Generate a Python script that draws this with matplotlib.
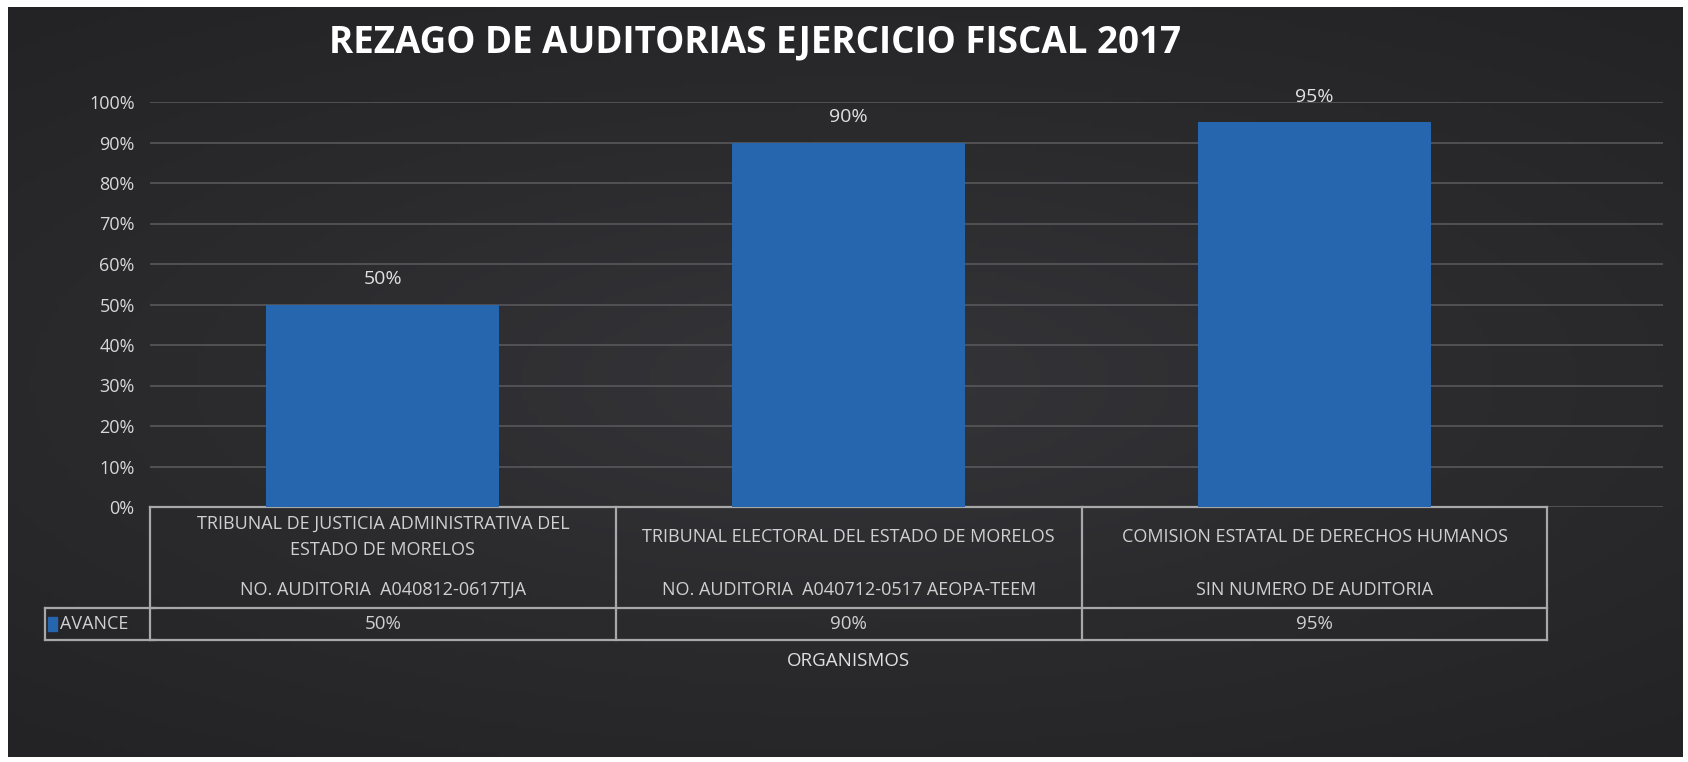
import matplotlib
matplotlib.use('Agg')
import matplotlib.pyplot as plt
import numpy as np
from matplotlib.patches import Rectangle
from matplotlib.colors import LinearSegmentedColormap
from matplotlib.transforms import blended_transform_factory

plt.rcParams['font.family'] = ['Open Sans', 'DejaVu Sans']

# datos
titulo = 'REZAGO DE AUDITORIAS EJERCICIO FISCAL 2017'
organismos = ['TRIBUNAL DE JUSTICIA ADMINISTRATIVA DEL\nESTADO DE MORELOS',
              'TRIBUNAL ELECTORAL DEL ESTADO DE MORELOS',
              'COMISION ESTATAL DE DERECHOS HUMANOS']
auditorias = ['NO. AUDITORIA  A040812-0617TJA',
              'NO. AUDITORIA  A040712-0517 AEOPA-TEEM',
              'SIN NUMERO DE AUDITORIA']
avance = [0.50, 0.90, 0.95]
serie = 'AVANCE'
eje_x = 'ORGANISMOS'
yticks = [0, 0.1, 0.2, 0.3, 0.4, 0.5, 0.6, 0.7, 0.8, 0.9, 1.0]

W, H = 1688, 762
fig = plt.figure(figsize=(W / 100, H / 100), dpi=100, facecolor='white')


def fx(x):
    return x / W


def fy(y):
    return 1 - y / H


# fondo oscuro, un poco mas claro al centro
bg = fig.add_axes([fx(8), fy(757), fx(1683) - fx(8), fy(7) - fy(757)])
gx, gy = np.meshgrid(np.linspace(-1, 1, 300), np.linspace(-1, 1, 150))
r = np.sqrt(gx ** 2 * 0.7 + gy ** 2)
fondo = LinearSegmentedColormap.from_list('fondo', ['#353438', '#2b2a2d', '#232225'])
bg.imshow(r, cmap=fondo, vmin=0, vmax=r.max(), aspect='auto', extent=[0, 1, 0, 1])
bg.axis('off')

# grafica
ax = fig.add_axes([fx(150), fy(507), fx(1663) - fx(150), fy(102) - fy(507)])
ax.patch.set_alpha(0)
x = np.arange(len(avance))
ax.bar(x, avance, width=0.5, color='#2566ae', zorder=3)
ax.set_xlim(-0.5, 2.748)
ax.set_ylim(0, 1)
ax.set_yticks(yticks)
ax.set_yticklabels([f'{int(round(v * 100))}%' for v in yticks])
ax.yaxis.grid(True, color='#58575b', linewidth=1.2, zorder=0)
ax.set_xticks([])
ax.tick_params(axis='y', length=0, pad=11, labelsize=13, labelcolor='#d8d8d8')
for s in ax.spines.values():
    s.set_visible(False)

for xi, v in zip(x, avance):
    ax.annotate(f'{int(round(v * 100))}%', (xi, v), xytext=(0, 12), textcoords='offset points',
                ha='center', va='bottom', color='#e0e0e0', fontsize=14)

fig.text(0.447, fy(42), titulo, ha='center', va='center', color='white',
         fontsize=26.5, fontweight='bold')

# tabla de datos
tr = blended_transform_factory(ax.transData, fig.transFigure)
linea = dict(color='#a8a8a8', linewidth=1.6, transform=tr, clip_on=False)
y_top, y_mid, y_bot = fy(507), fy(608), fy(640)
cols = [-0.5, 0.5, 1.5, 2.5]
ax.plot([cols[0], cols[-1]], [y_top, y_top], **linea)
ax.plot([cols[0], cols[-1]], [y_mid, y_mid], **linea)
ax.plot([cols[0], cols[-1]], [y_bot, y_bot], **linea)
for c in cols:
    ax.plot([c, c], [y_top, y_bot], **linea)

for xi, nom, aud, v in zip(x, organismos, auditorias, avance):
    ax.text(xi, fy(537), nom, transform=tr, ha='center', va='center', color='#d0d0d0',
            fontsize=13, linespacing=1.6)
    ax.text(xi, fy(590), aud, transform=tr, ha='center', va='center', color='#d0d0d0',
            fontsize=13)
    ax.text(xi, fy(624), f'{int(round(v * 100))}%', transform=tr, ha='center', va='center',
            color='#d0d0d0', fontsize=13.5)

# celda de la leyenda
lx0, lx1 = fx(45), fx(155)
for a, b in [([lx0, lx0], [y_mid, y_bot]), ([lx0, lx1], [y_mid, y_mid]),
             ([lx0, lx1], [y_bot, y_bot])]:
    fig.lines.append(plt.Line2D(a, b, color='#a8a8a8', linewidth=1.6,
                                transform=fig.transFigure))
fig.patches.append(Rectangle((fx(48), fy(631)), fx(9), fy(617) - fy(631), color='#2566ae',
                             transform=fig.transFigure))
fig.text(fx(60), fy(624), serie, ha='left', va='center', color='#d0d0d0', fontsize=13)

fig.text(ax.transData.transform((1, 0))[0] / W, fy(661), eje_x, ha='center', va='center',
         color='#e0e0e0', fontsize=13.5)

plt.savefig('out.png', dpi=100, facecolor='white')
